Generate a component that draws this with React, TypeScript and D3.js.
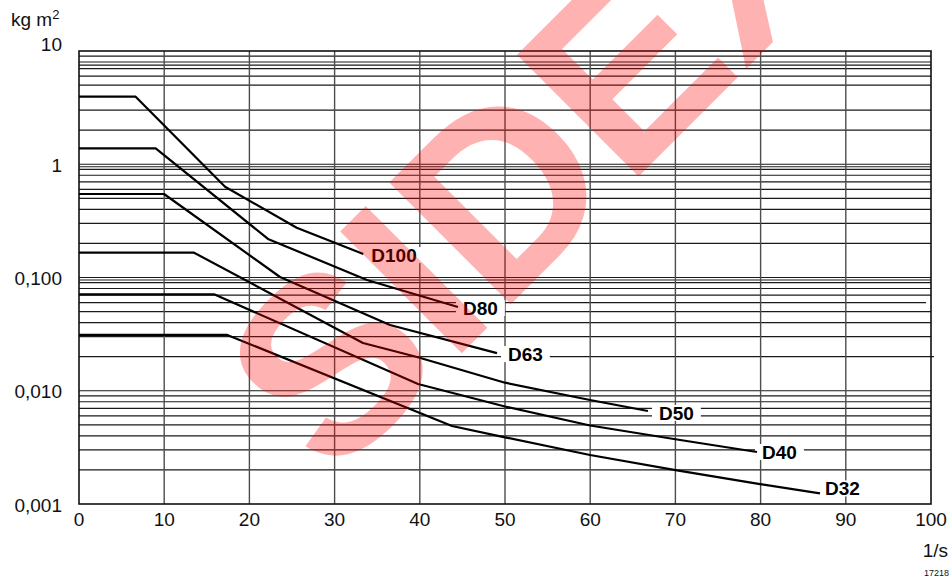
import React from "react";
import * as d3 from "d3";

// ---- data ----
const X_TICKS = [0, 10, 20, 30, 40, 50, 60, 70, 80, 90, 100];
const Y_TICKS = [10, 1, 0.1, 0.01, 0.001];
const Y_TICK_LABELS = ["10", "1", "0,100", "0,010", "0,001"];
const GRID_Y = [
  9, 8, 7.5, 7, 6, 5, 3, 2,
  0.95, 0.9, 0.8, 0.7, 0.6, 0.5, 0.4, 0.3, 0.2,
  0.095, 0.09, 0.08, 0.07, 0.06, 0.05, 0.04, 0.03, 0.02,
  0.009, 0.008, 0.007, 0.006, 0.005, 0.004, 0.003, 0.002,
];

const SERIES_NAMES = ["D100", "D80", "D63", "D50", "D40", "D32"];
const D100_X = [0, 6.65, 17.14, 25.55, 33.37];
const D100_Y = [3.95, 3.95, 0.633, 0.275, 0.161];
const D80_X = [0, 9.0, 22.18, 33.8, 44.48];
const D80_Y = [1.383, 1.383, 0.219, 0.095, 0.0549];
const D63_X = [0, 9.98, 23.59, 36.5, 49.06];
const D63_Y = [0.546, 0.546, 0.101, 0.0381, 0.0215];
const D50_X = [0, 13.5, 33.33, 39.67, 50.0, 59.98, 66.78];
const D50_Y = [0.1656, 0.1656, 0.0264, 0.01986, 0.01178, 0.00829, 0.00663];
const D40_X = [0, 15.85, 39.79, 50.0, 59.98, 70.19, 79.58];
const D40_Y = [0.0711, 0.0711, 0.01147, 0.00726, 0.00493, 0.00371, 0.00288];
const D32_X = [0, 17.4, 43.78, 50.0, 59.98, 70.19, 79.93, 86.97];
const D32_Y = [0.0311, 0.0311, 0.00488, 0.00388, 0.00271, 0.00198, 0.0015, 0.00124];

const SERIES_X = [D100_X, D80_X, D63_X, D50_X, D40_X, D32_X];
const SERIES_Y = [D100_Y, D80_Y, D63_Y, D50_Y, D40_Y, D32_Y];

// ---- layout ----
const W = 952;
const H = 577;
const FONT = "'Liberation Sans', Arial, Helvetica, sans-serif";
const LABEL_NUDGE: Record<string, [number, number]> = {
  D100: [8, 1],
  D80: [5, 1],
  D63: [11, 1],
  D50: [11, 2],
  D40: [5, 0],
  D32: [5, -5],
};

export default function App() {
  const x = d3.scaleLinear().domain([0, 100]).range([79, 931]);
  const y = d3.scaleLog().domain([0.001, 10]).range([504, 51]);
  const line = d3
    .line<[number, number]>()
    .x((d) => x(d[0]))
    .y((d) => y(d[1]));

  const labelFs = 19;
  const series = SERIES_NAMES.map((name, i) => {
    const pts = SERIES_X[i].map((v, j) => [v, SERIES_Y[i][j]] as [number, number]);
    const last = pts[pts.length - 1];
    const [dx, dy] = LABEL_NUDGE[name];
    const tx = x(last[0]) + dx;
    const cy = y(last[1]) + dy;
    const tw = labelFs * (0.722 + 0.556 * (name.length - 1));
    return { name, pts, tx, cy, tw };
  });

  return (
    <svg
      width={W}
      height={H}
      style={{ position: "absolute", left: 0, top: 0, background: "#fff" }}
      fontFamily={FONT}
    >
      <rect x={0} y={0} width={W} height={H} fill="#fff" />
      {/* horizontal grid */}
      {GRID_Y.concat(Y_TICKS.slice(1, 4)).map((v, i) => (
        <line
          key={"h" + i}
          x1={x(0)}
          x2={v === 0.02 ? x(100) + 3 : v === 0.06 ? x(100) - 5 : x(100)}
          y1={y(v)}
          y2={y(v)}
          stroke="#1a1a1a"
          strokeWidth={1.2}
        />
      ))}
      {/* vertical grid */}
      {X_TICKS.slice(1, -1).map((v) => (
        <line
          key={"v" + v}
          x1={x(v)}
          x2={x(v)}
          y1={y(10)}
          y2={y(0.001)}
          stroke="#4d4d4d"
          strokeWidth={1.4}
        />
      ))}
      {/* frame */}
      <rect
        x={x(0)}
        y={y(10)}
        width={x(100) - x(0)}
        height={y(0.001) - y(10)}
        fill="none"
        stroke="#111"
        strokeWidth={1.6}
      />
      {/* label backgrounds */}
      {series.map((s) => (
        <rect
          key={"bg" + s.name}
          x={s.tx - 7}
          y={s.cy - 8}
          width={s.tw + 14}
          height={16}
          fill="#fff"
        />
      ))}
      {/* curves */}
      {series.map((s) => (
        <path
          key={"c" + s.name}
          d={line(s.pts) || ""}
          fill="none"
          stroke="#000"
          strokeWidth={2.2}
          strokeLinejoin="round"
        />
      ))}
      {/* curve labels */}
      {series.map((s) => (
        <text
          key={"t" + s.name}
          x={s.tx}
          y={s.cy + 6.8}
          fontSize={labelFs}
          fontWeight="bold"
          fill="#000"
        >
          {s.name}
        </text>
      ))}
      {/* y tick labels */}
      {Y_TICKS.map((v, i) => (
        <text
          key={"yl" + i}
          x={62}
          y={i === 0 ? y(v) - 0.5 : y(v) + 7.5}
          textAnchor="end"
          fontSize={19}
          fill="#111"
        >
          {Y_TICK_LABELS[i]}
        </text>
      ))}
      {/* x tick labels */}
      {X_TICKS.map((v) => (
        <text key={"xl" + v} x={x(v)} y={526} textAnchor="middle" fontSize={19} fill="#111">
          {v}
        </text>
      ))}
      <text x={11} y={26} fontSize={19} fill="#111">
        kg m<tspan fontSize={13} dy={-7}>2</tspan>
      </text>
      <text x={948} y={557} textAnchor="end" fontSize={19} fill="#111">
        1/s
      </text>
      <text x={949} y={576} textAnchor="end" fontSize={9} fill="#111">
        17218
      </text>
      {/* watermark */}
      <text
        transform="translate(332,483) rotate(-45)"
        fontSize={250}
        fontWeight="bold"
        fill="#ff0000"
        fillOpacity={0.3}
      >
        SIDEX
      </text>
    </svg>
  );
}
